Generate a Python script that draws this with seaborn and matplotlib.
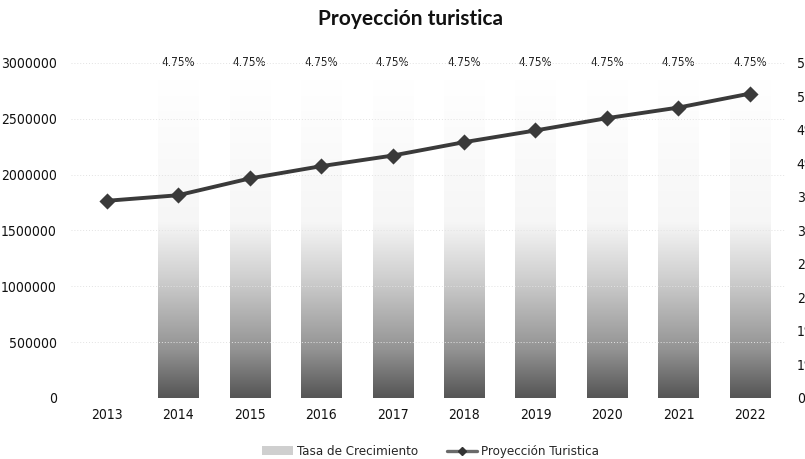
import numpy as np
import pandas as pd
import matplotlib
matplotlib.use("Agg")
import matplotlib.pyplot as plt
import seaborn as sns
from matplotlib.colors import LinearSegmentedColormap
from matplotlib.patches import Patch
from matplotlib.lines import Line2D
from matplotlib.ticker import FixedLocator, FuncFormatter

# ---- data ----
years = ["2013", "2014", "2015", "2016", "2017", "2018", "2019", "2020", "2021", "2022"]
proyeccion = [1765000, 1815000, 1965000, 2075000, 2170000, 2290000, 2395000, 2505000, 2600000, 2725000]
tasa_years = ["2014", "2015", "2016", "2017", "2018", "2019", "2020", "2021", "2022"]
tasa = [0.0475, 0.0475, 0.0475, 0.0475, 0.0475, 0.0475, 0.0475, 0.0475, 0.0475]
left_ticks = [0, 500000, 1000000, 1500000, 2000000, 2500000, 3000000]
right_ticks = [0.0, 0.005, 0.01, 0.015, 0.02, 0.025, 0.03, 0.035, 0.04, 0.045, 0.05]
title = "Proyección turistica"
series_bar = "Tasa de Crecimiento"
series_line = "Proyección Turistica"

sns.set_theme(style="white")
narrow = ["DejaVu Sans", "Lato"]
plt.rcParams["font.family"] = narrow
plt.rcParams["font.stretch"] = "condensed"

fig = plt.figure(figsize=(8.05, 4.59), dpi=100)
ax = fig.add_axes([0.088, 0.133, 0.888, 0.730])
ax2 = ax.twinx()
ax2.set_zorder(ax.get_zorder() - 1)
ax.patch.set_visible(False)
ax2.patch.set_visible(True)
ax2.patch.set_facecolor("white")

df_bar = pd.DataFrame({"year": tasa_years, "tasa": tasa})
df_line = pd.DataFrame({"year": years, "proy": proyeccion})

# ---- bars (right axis) ----
sns.barplot(data=df_bar, x="year", y="tasa", order=years, ax=ax2,
            width=0.56, color="#999999", edgecolor="none")
ax2.set_ylim(0, 0.05)

cmap = LinearSegmentedColormap.from_list(
    "fade", [(0.0, "#ffffff"), (0.45, "#f6f6f6"), (0.62, "#d0d0d0"), (0.85, "#939393"), (1.0, "#555555")])
grad = np.linspace(0, 1, 256).reshape(-1, 1)  # row0 bottom
for p in list(ax2.patches):
    if p.get_height() <= 0 or np.isnan(p.get_height()):
        continue
    x0, y0 = p.get_x(), p.get_y()
    w, h = p.get_width(), p.get_height()
    p.set_facecolor("none")
    im = ax2.imshow(1 - grad, extent=[x0, x0 + w, y0, y0 + h], origin="lower",
                    aspect="auto", cmap=cmap, vmin=0, vmax=1, zorder=1,
                    interpolation="bicubic")
    im.set_clip_path(p)

ax2.set_xlim(-0.5, len(years) - 0.5)
ax2.set_ylim(0, 0.05)

cont = ax2.containers[0]
ax2.bar_label(cont, labels=[f"{v * 100:.2f}%" for v in tasa], padding=8,
              fontsize=8.5, color="#222222")

# ---- line (left axis) ----
sns.pointplot(data=df_line, x="year", y="proy", order=years, ax=ax,
              color="#3a3a3a", markers="D", markersize=6, linewidth=2.8)
ax.set_xlim(-0.5, len(years) - 0.5)
ax.set_ylim(0, 3000000)

# ---- axes styling ----
ax.yaxis.set_major_locator(FixedLocator(left_ticks))
ax.yaxis.set_major_formatter(FuncFormatter(lambda v, pos: f"{int(v)}"))
ax2.yaxis.set_major_locator(FixedLocator(right_ticks))
ax2.yaxis.set_major_formatter(FuncFormatter(lambda v, pos: f"{int(v * 100 + 0.5 + 1e-9)}%"))

ax.grid(axis="y", color="#e2e2e2", linestyle=(0, (1, 2)), linewidth=0.7)
ax2.grid(False)
ax.grid(axis="x", visible=False)

for a in (ax, ax2):
    for s in a.spines.values():
        s.set_visible(False)
    a.set_xlabel("")
    a.set_ylabel("")

ax.tick_params(axis="y", length=0, pad=10, labelsize=10, labelcolor="#111111")
ax.tick_params(axis="x", length=0, pad=7, labelsize=10, labelcolor="#111111")
ax2.tick_params(axis="y", length=0, pad=8, labelsize=10, labelcolor="#111111")
ax2.tick_params(axis="x", length=0, labelbottom=False)

fig.suptitle(title, x=0.51, y=0.98, fontsize=15, fontweight="bold",
             family=["Lato", "DejaVu Sans"], fontstretch="normal", color="#111111")

handles = [Patch(facecolor="#cfcfcf", edgecolor="none"),
           Line2D([0], [0], color="#6a6a6a", lw=2.4, marker="D", markersize=4,
                  markerfacecolor="#333333", markeredgecolor="#333333")]
fig.legend(handles, [series_bar, series_line], loc="center", bbox_to_anchor=(0.535, 0.016),
           ncol=2, frameon=False, fontsize=9.5, handlelength=2.3, columnspacing=2.2,
           handletextpad=0.3, borderaxespad=0)

fig.savefig("out.png", dpi=100)
